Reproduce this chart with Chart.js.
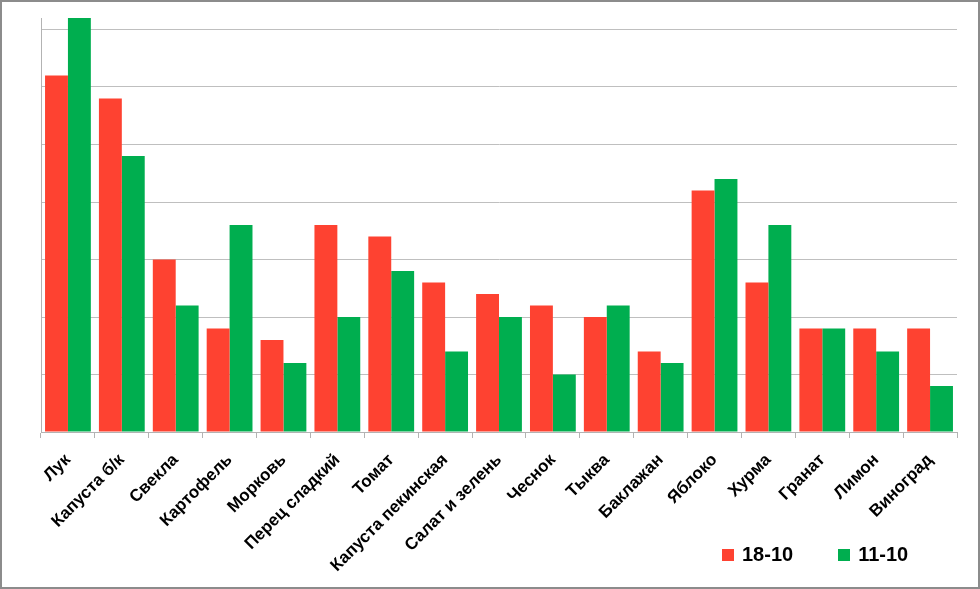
<!DOCTYPE html>
<html>
<head>
<meta charset="utf-8">
<script src="https://cdn.jsdelivr.net/npm/chart.js@4"></script>
<style>
    html, body { margin: 0; padding: 0; background: #fff; }
    .frame {
        position: absolute; left: 0; top: 0;
        width: 976px; height: 585px;
        border: 2px solid #8c8c8c;
    }
    canvas { display: block; }
    #legend {
        position: absolute; left: 722px; top: 543px;
        display: flex; align-items: center;
        font: bold 20px 'Liberation Sans', sans-serif; color: #000;
    }
    .item { display: flex; align-items: center; margin-right: 45px; }
    .swatch { width: 12px; height: 12px; margin-right: 8px; }
</style>
</head>
<body>
<div class="frame"><canvas id="chart" width="976" height="585"></canvas></div>
<div id="legend"></div>
<script>
// categories and series
const categories = ['Лук', 'Капуста б/к', 'Свекла', 'Картофель', 'Морковь', 'Перец сладкий', 'Томат',
    'Капуста пекинская', 'Салат и зелень', 'Чеснок', 'Тыква', 'Баклажан', 'Яблоко', 'Хурма',
    'Гранат', 'Лимон', 'Виноград'];
const series1 = [31, 29, 15, 9, 8, 18, 17, 13, 12, 11, 10, 7, 21, 13, 9, 9, 9];   // 18-10
const series2 = [36, 24, 11, 18, 6, 10, 14, 7, 10, 5, 11, 6, 22, 18, 9, 7, 4];    // 11-10
const seriesNames = ['18-10', '11-10'];
const seriesColors = ['#fe4231', '#00ae4f'];
const gridTicks = [0, 5, 10, 15, 20, 25, 30, 35];

const ctx = document.getElementById('chart');
const chart = new Chart(ctx, {
    type: 'bar',
    data: {
        labels: categories,
        datasets: [
            { label: seriesNames[0], data: series1, backgroundColor: seriesColors[0] },
            { label: seriesNames[1], data: series2, backgroundColor: seriesColors[1] }
        ]
    },
    options: {
        responsive: false,
        animation: false,
        categoryPercentage: 0.85,
        barPercentage: 1,
        layout: { padding: { left: 39, right: 21, top: 16, bottom: 0 } },
        scales: {
            x: {
                afterFit: (scale) => { scale.height = 155; scale.paddingRight = 0; scale.paddingLeft = 0; },
                grid: { offset: true, drawOnChartArea: false, color: '#b3b3b3', tickLength: 6 },
                border: { color: '#b3b3b3' },
                ticks: {
                    color: '#000',
                    padding: 12,
                    maxRotation: 45, minRotation: 45,
                    font: { family: 'Liberation Sans', weight: 'bold', size: 17 }
                }
            },
            y: {
                min: 0, max: 36,
                afterBuildTicks: (scale) => {
                    scale.ticks = gridTicks.map(v => ({ value: v }));
                },
                grid: { color: '#bfbfbf', drawTicks: false },
                border: { color: '#b3b3b3' },
                ticks: { display: false }
            }
        },
        plugins: {
            tooltip: { enabled: false },
            legend: { display: false }
        }
    }
});

// легенда справа внизу
const legendBox = document.getElementById('legend');
chart.data.datasets.forEach(ds => {
    const item = document.createElement('div');
    item.className = 'item';
    const sw = document.createElement('span');
    sw.className = 'swatch';
    sw.style.background = ds.backgroundColor;
    item.appendChild(sw);
    item.appendChild(document.createTextNode(ds.label));
    legendBox.appendChild(item);
});
</script>
</body>
</html>
